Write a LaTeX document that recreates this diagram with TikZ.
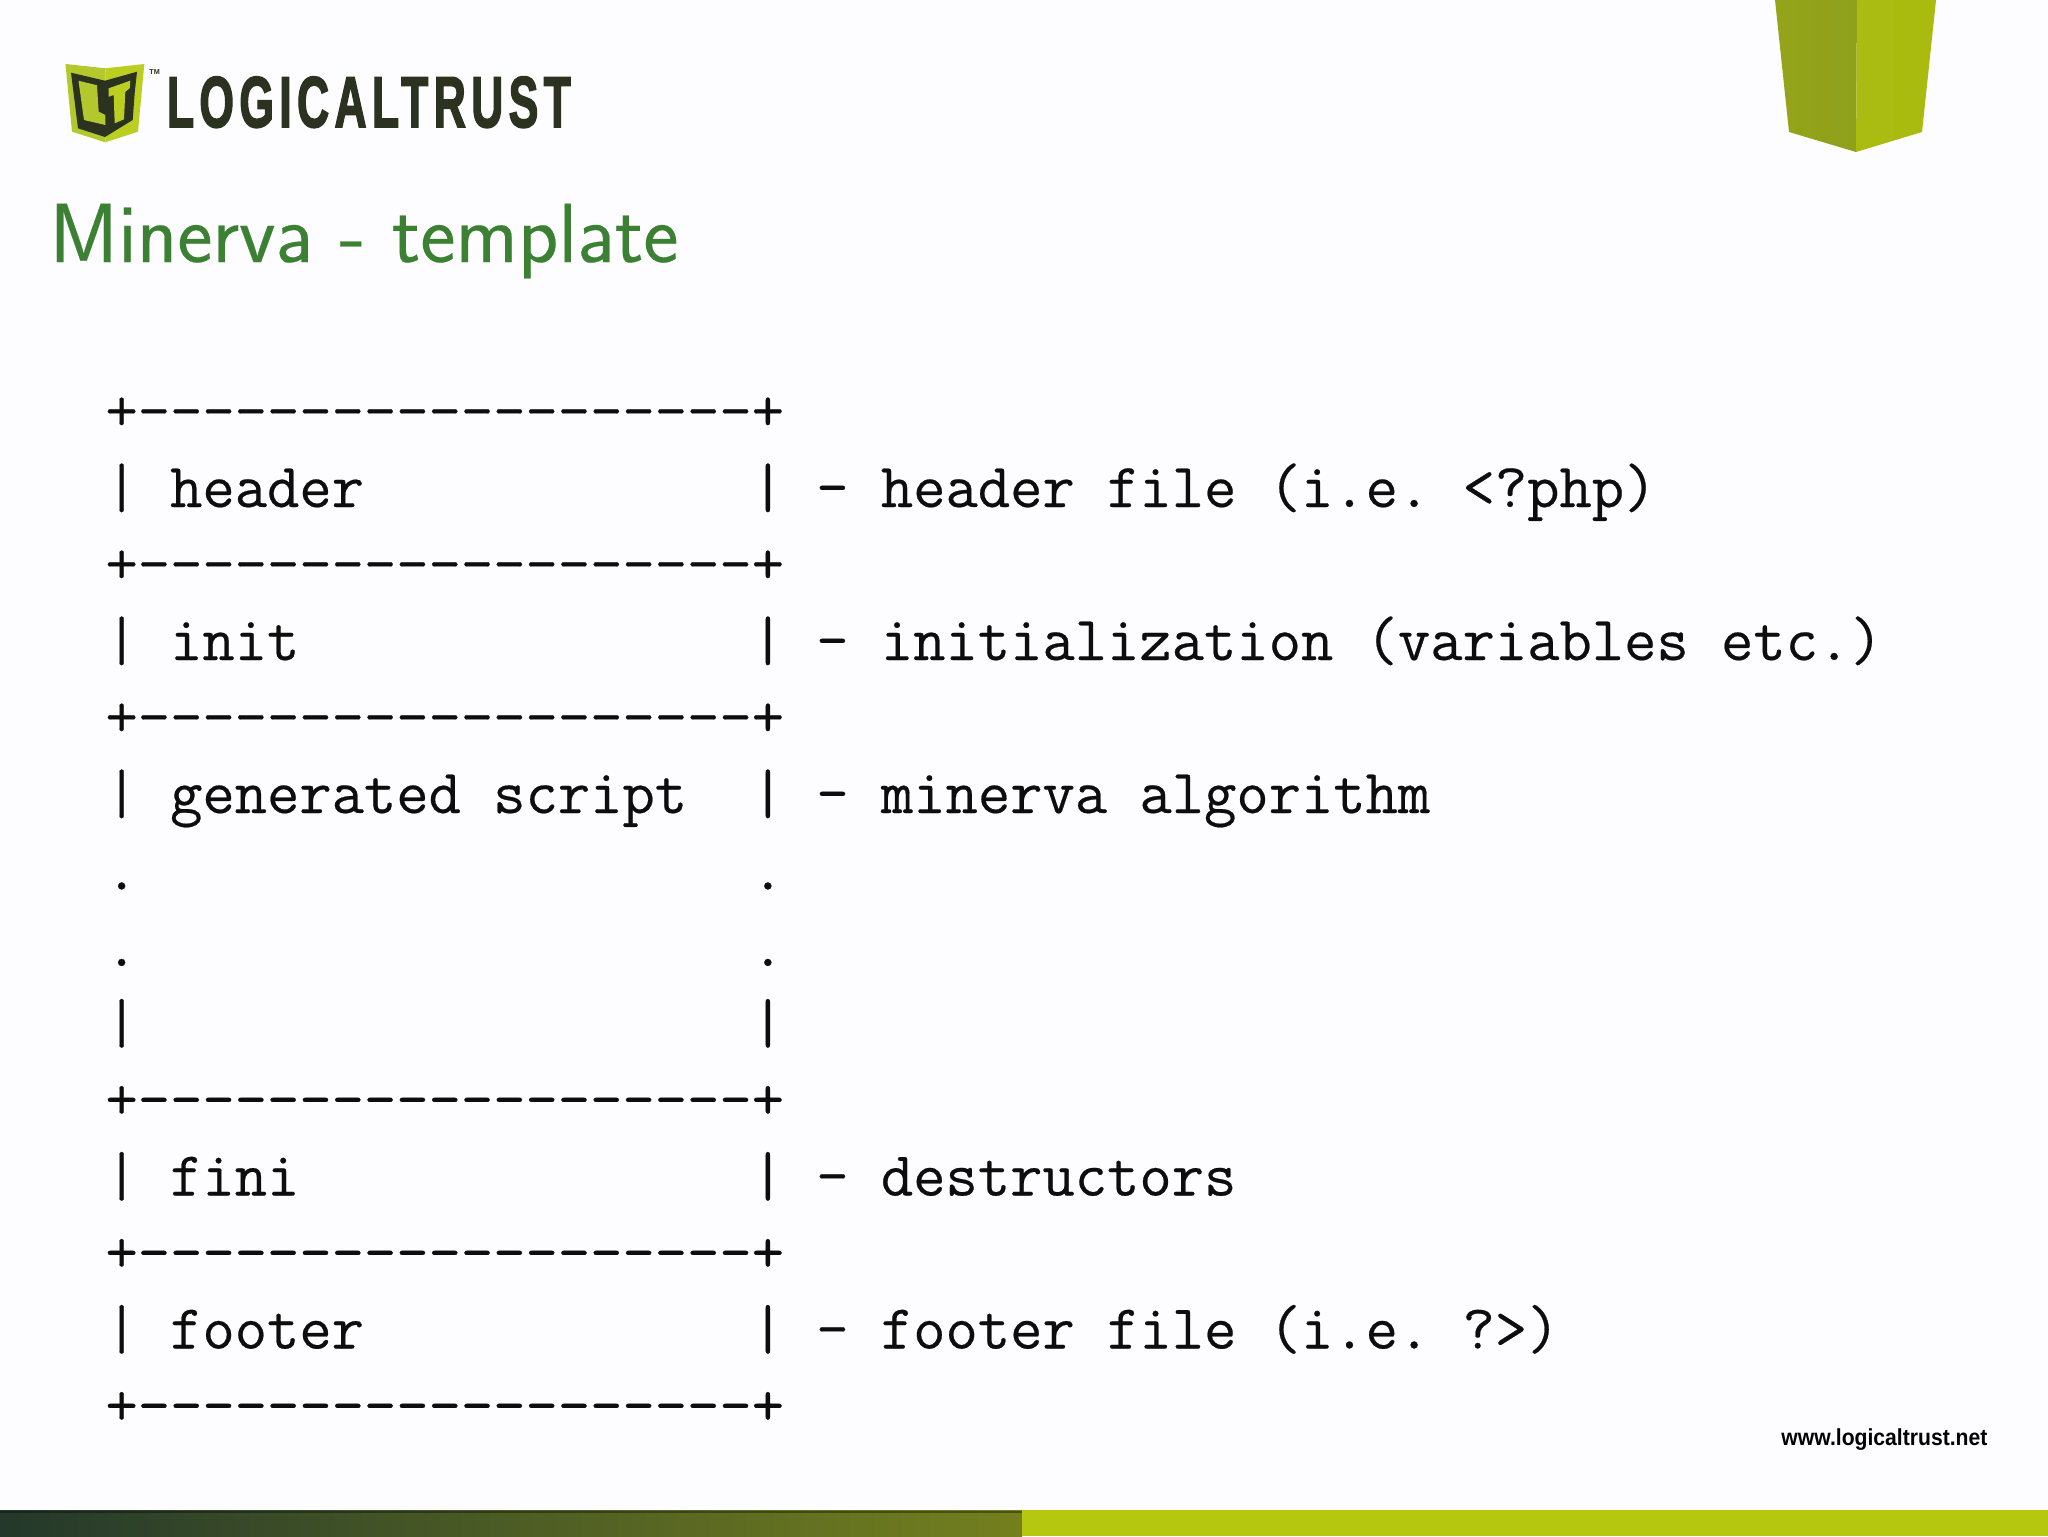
\documentclass[tikz,border=0pt]{standalone}
\usepackage{fontspec}
\usepackage{graphicx}
\setmainfont{Liberation Sans}
\newfontfamily\asciifont[FakeBold=0.35]{Latin Modern Mono}
\newfontfamily\headfont[FakeBold=0.25]{Latin Modern Sans}
\newfontfamily\logofont[LetterSpace=12,FakeBold=2.6]{Liberation Sans Bold}
\frenchspacing
\definecolor{pagebg}{HTML}{FDFCFE}
\definecolor{titlegreen}{HTML}{3C8033}
\definecolor{barlime}{HTML}{B5C70F}
\definecolor{logodark}{HTML}{2B3320}
\definecolor{shieldlime}{HTML}{B2C82C}
\definecolor{shieldbright}{HTML}{BACF22}
\definecolor{shieldolive}{HTML}{8FA01B}
\newcommand{\boxrule}{+{-}{-}{-}{-}{-}{-}{-}{-}{-}{-}{-}{-}{-}{-}{-}{-}{-}{-}{-}+}
\tikzset{
  ttline/.style={anchor=base west,inner sep=0pt,outer sep=0pt,text=black!95,
    font=\fontsize{31.37}{36}\selectfont\asciifont},
}
\begin{document}
\begin{tikzpicture}[x=0.5pt,y=-0.5pt]
\useasboundingbox (0,0) rectangle (2048,1536);
\fill[pagebg] (0,0) rectangle (2048,1536);
% top-right ribbon
\shade[left color=shieldolive!88!barlime,right color=shieldolive] (1775,0) -- (1857,0) -- (1856,152) -- (1789,132) -- cycle;
\shade[left color=shieldolive!30!barlime,right color=barlime!94!black] (1857,0) -- (1936,0) -- (1922,132) -- (1856,152) -- cycle;
% bottom bar
\shade[left color={rgb,255:red,36;green,56;blue,43},middle color={rgb,255:red,76;green,92;blue,33},right color={rgb,255:red,116;green,128;blue,30}] (0,1510) rectangle (1022,1536);
\fill[black,opacity=0.35] (0,1511) rectangle (1022,1513);
\fill[barlime] (1022,1510) rectangle (2048,1536);
% logo shield
\fill[shieldlime] (65.5,64) -- (105.3,68.3) -- (105.3,142.3) -- (72,131.7) -- cycle;
\fill[shieldbright] (105.3,68.3) -- (144.3,64) -- (138,131.7) -- (105.3,142.3) -- cycle;
\fill[logodark] (71,72.7) -- (105,80.7) -- (137,71.7) -- (134.7,93) -- (132.7,120) -- (105,137) -- (78,128.3) -- cycle;
\fill[shieldlime] (78.5,80.7) -- (97,85.3) -- (98.7,111.7) -- (105.3,115) -- (105.3,125) -- (84,120) -- cycle;
\fill[shieldbright] (108.7,88.3) -- (130.3,80.7) -- (129.7,88.3) -- (125.3,91.7) -- (124,119.3) -- (114.7,123.3) -- (113.7,95) -- (108.7,96.7) -- cycle;
\node[anchor=base west,inner sep=0pt,text=logodark,font=\fontsize{3.6}{4}\selectfont\bfseries] (tm) at (149,75) {TM};
\node[anchor=base west,inner sep=0pt,text=logodark,font=\fontsize{36}{40}\selectfont\logofont] (logo) at (166.5,127) {\resizebox{202pt}{\height}{LOGICALTRUST}};
% title
\node[anchor=base west,inner sep=0pt,text=titlegreen,font=\fontsize{41.9}{46}\selectfont\headfont] (title) at (49,262) {Minerva - template};
% footer url
\node[anchor=base west,inner sep=0pt,text=black,font=\fontsize{11.6}{13}\selectfont\bfseries] (url) at (1781,1445) {\resizebox{103pt}{\height}{www.logicaltrust.net}};
% ascii table
\node[ttline] (l0) at (105.5,430.5) {\boxrule};
\node[ttline] (l1) at (105.5,507) {|~header~~~~~~~~~~~~|~{-}~header~file~(i.e.~<?php)};
\node[ttline] (l2) at (105.5,583.5) {\boxrule};
\node[ttline] (l3) at (105.5,660) {|~init~~~~~~~~~~~~~~|~{-}~initialization~(variables~etc.)};
\node[ttline] (l4) at (105.5,736.5) {\boxrule};
\node[ttline] (l5) at (105.5,813) {|~generated~script~~|~{-}~minerva~algorithm};
\node[ttline] (l6) at (105.5,889.5) {.~~~~~~~~~~~~~~~~~~~.};
\node[ttline] (l7) at (105.5,966) {.~~~~~~~~~~~~~~~~~~~.};
\node[ttline] (l8) at (105.5,1042.5) {|~~~~~~~~~~~~~~~~~~~|};
\node[ttline] (l9) at (105.5,1119) {\boxrule};
\node[ttline] (l10) at (105.5,1195.5) {|~fini~~~~~~~~~~~~~~|~{-}~destructors};
\node[ttline] (l11) at (105.5,1272) {\boxrule};
\node[ttline] (l12) at (105.5,1348.5) {|~footer~~~~~~~~~~~~|~{-}~footer~file~(i.e.~?>)};
\node[ttline] (l13) at (105.5,1425) {\boxrule};
\end{tikzpicture}
\end{document}
